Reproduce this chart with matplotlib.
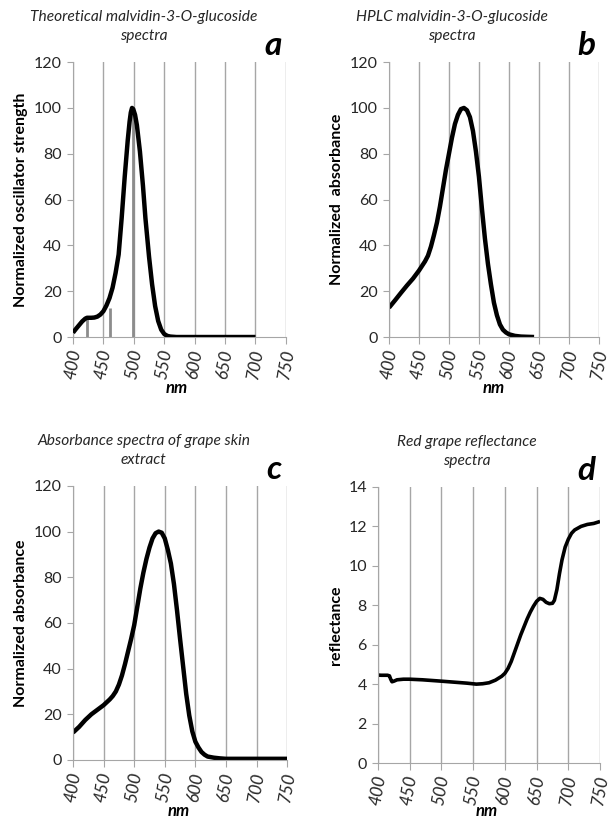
import matplotlib
matplotlib.use("Agg")
import matplotlib.pyplot as plt

plt.rcParams['font.family'] = ['Lato', 'DejaVu Sans']

# panel a: theoretical spectrum + oscillator sticks
nm_a = [400, 405, 410, 415, 420, 423, 430, 435, 440, 445, 450, 455, 460, 465,
        470, 475, 480, 485, 490, 493, 495, 497, 499, 502, 505, 510, 515, 519,
        525, 530, 535, 540, 545, 550, 555, 560, 570, 600, 650, 700]
val_a = [1.9, 3.6, 5.2, 6.8, 8.0, 8.4, 8.4, 8.5, 8.9, 9.8, 11.3, 13.8, 17.0,
         21.5, 28.0, 36.0, 52.0, 70.0, 86.0, 94.0, 98.0, 100.0, 99.5, 97.0,
         92.5, 81.0, 66.0, 52.0, 35.0, 23.0, 13.5, 7.0, 3.2, 1.3, 0.5, 0.2,
         0.0, 0.0, 0.0, 0.0]
stick_nm = [423, 461, 498]
stick_val = [8.4, 12.8, 100]

# panel b: HPLC spectrum
nm_b = [400, 410, 420, 430, 440, 450, 460, 465, 470, 475, 480, 485, 490, 495,
        500, 505, 510, 515, 520, 525, 530, 535, 540, 545, 550, 555, 560, 565,
        570, 575, 580, 585, 590, 595, 600, 610, 620, 630, 642]
val_b = [12.8, 16.0, 19.3, 22.5, 25.5, 29.0, 33.0, 35.5, 39.5, 44.5, 50.0,
         57.0, 65.0, 73.0, 80.0, 87.0, 93.0, 97.0, 99.5, 100.0, 99.0, 96.0,
         90.0, 81.0, 70.0, 56.0, 43.0, 32.0, 23.0, 15.0, 9.5, 5.5, 3.2, 2.0,
         1.2, 0.5, 0.2, 0.1, 0.0]

# panel c: grape skin extract
nm_c = [400, 410, 420, 430, 440, 450, 460, 465, 470, 475, 480, 485, 490, 495,
        500, 505, 510, 515, 520, 525, 530, 535, 540, 545, 550, 555, 560, 565,
        570, 575, 580, 585, 590, 595, 600, 605, 610, 615, 620, 630, 640, 650,
        700, 750]
val_c = [12.0, 14.5, 17.5, 20.0, 22.0, 24.0, 26.5, 28.0, 30.0, 33.0, 37.0,
         42.0, 47.5, 53.0, 59.0, 67.0, 75.0, 82.0, 88.0, 93.0, 97.0, 99.3,
         100.0, 99.5, 97.0, 92.0, 86.0, 77.0, 65.5, 53.0, 41.0, 29.0, 19.5,
         12.5, 8.0, 5.5, 3.5, 2.3, 1.5, 1.0, 0.7, 0.5, 0.5, 0.5]

# panel d: red grape reflectance
nm_d = [400, 405, 410, 415, 418, 420, 422, 425, 430, 440, 450, 470, 500, 520,
        540, 555, 565, 575, 585, 595, 600, 605, 610, 615, 620, 625, 630, 635,
        640, 645, 650, 655, 660, 665, 670, 675, 678, 682, 686, 690, 695, 700,
        705, 710, 720, 730, 740, 750]
val_d = [4.46, 4.45, 4.45, 4.45, 4.42, 4.25, 4.12, 4.15, 4.22, 4.25, 4.25,
         4.22, 4.15, 4.10, 4.05, 4.00, 4.02, 4.07, 4.20, 4.40, 4.55, 4.80,
         5.15, 5.60, 6.05, 6.50, 6.90, 7.30, 7.65, 7.95, 8.20, 8.35, 8.30,
         8.15, 8.08, 8.10, 8.25, 8.80, 9.60, 10.30, 10.95, 11.35, 11.65,
         11.82, 12.00, 12.10, 12.15, 12.25]

x_ticks = [400, 450, 500, 550, 600, 650, 700, 750]
GRID = '#a6a6a6'
TXT = '#262626'


def style_axis(ax, ymax, ystep, ylabel, title, letter, title_x, nm_pos):
    ax.set_xlim(400, 750)
    ax.set_ylim(0, ymax)
    ax.set_xticks(x_ticks)
    ax.set_xticklabels([str(t) for t in x_ticks], rotation=80,
                       fontstyle='italic', fontsize=12.5, color=TXT)
    ax.set_yticks(range(0, ymax + 1, ystep))
    ax.tick_params(axis='y', labelsize=11.5, colors=GRID, labelcolor=TXT,
                   length=4, pad=4)
    ax.tick_params(axis='x', colors=GRID, labelcolor=TXT, length=5, pad=3)
    ax.grid(axis='x', color=GRID, linewidth=1)
    ax.set_axisbelow(True)
    for s in ['top', 'right']:
        ax.spines[s].set_visible(False)
    for s in ['left', 'bottom']:
        ax.spines[s].set_color(GRID)
    ax.set_ylabel(ylabel, fontsize=11.5, fontweight='bold', color='black')
    ax.text(nm_pos[0], nm_pos[1], 'nm', transform=ax.transAxes, ha='center',
            va='center', fontsize=12, fontweight='bold', fontstyle='italic')
    ax.text(title_x, 1.13, title, transform=ax.transAxes, ha='center',
            va='center', fontsize=11.2, fontstyle='italic', color=TXT,
            linespacing=1.45)
    ax.text(0.94, 1.06, letter, transform=ax.transAxes, ha='center',
            va='center', fontsize=24, fontweight='bold', fontstyle='italic')


fig = plt.figure(figsize=(6.10, 8.23), dpi=100)
ax_a = fig.add_axes([0.1197, 0.5905, 0.349, 0.334])
ax_b = fig.add_axes([0.6377, 0.5905, 0.344, 0.334])
ax_c = fig.add_axes([0.1197, 0.0766, 0.351, 0.333])
ax_d = fig.add_axes([0.6197, 0.0729, 0.364, 0.3354])

ax_a.vlines(stick_nm, 0, stick_val, color='#8c8c8c', linewidth=2, zorder=2)
ax_a.plot(nm_a, val_a, color='black', linewidth=3.2, zorder=3,
          solid_capstyle='butt')
style_axis(ax_a, 120, 20, 'Normalized oscillator strength',
           'Theoretical malvidin-3-O-glucoside\nspectra', 'a', 0.33,
           (0.488, -0.185))

ax_b.plot(nm_b, val_b, color='black', linewidth=3.2, solid_capstyle='butt')
style_axis(ax_b, 120, 20, 'Normalized  absorbance',
           'HPLC malvidin-3-O-glucoside\nspectra', 'b', 0.3,
           (0.5, -0.185))

ax_c.plot(nm_c, val_c, color='black', linewidth=3.2, solid_capstyle='butt')
style_axis(ax_c, 120, 20, 'Normalized absorbance',
           'Absorbance spectra of grape skin\nextract', 'c', 0.33,
           (0.495, -0.185))

ax_d.plot(nm_d, val_d, color='black', linewidth=2.6, solid_capstyle='butt')
style_axis(ax_d, 14, 2, 'reflectance', 'Red grape reflectance\nspectra',
           'd', 0.4, (0.49, -0.175))

fig.savefig('out.png', dpi=100)
